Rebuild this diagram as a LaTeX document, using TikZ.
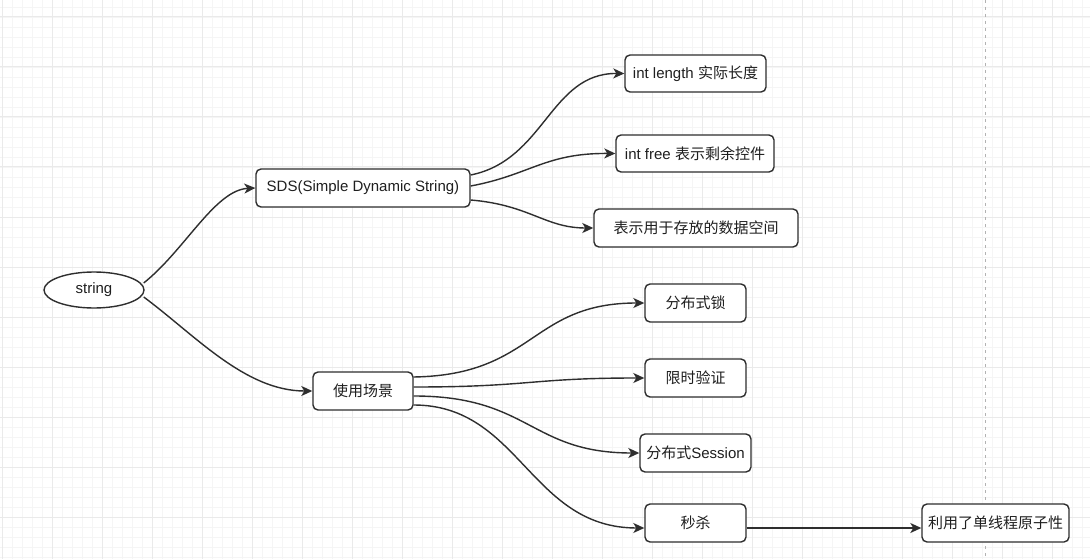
\documentclass[tikz,border=0pt]{standalone}
\usepackage{fontspec}
\setmainfont{Liberation Sans}
\newfontfamily\cjk{Noto Sans CJK SC}
\usetikzlibrary{arrows.meta,calc,shapes.geometric}
\definecolor{minorgrid}{HTML}{F5F5F5}
\definecolor{majorgrid}{HTML}{EAEAEA}
\definecolor{linec}{HTML}{2E2E2E}
\tikzset{
  box/.style={draw=linec, line width=1.4pt, rounded corners=5pt, fill=white,
    minimum height=38pt, inner sep=0pt, text=black!88, font=\fontsize{15pt}{18pt}\selectfont},
  ell/.style={draw=linec, line width=1.4pt, ellipse, fill=white, inner sep=0pt,
    minimum width=100pt, minimum height=36pt, text=black!88, font=\fontsize{15pt}{18pt}\selectfont},
  conn/.style={draw=linec, line width=1.4pt, -{Stealth[length=11pt,width=10pt,inset=3pt]}}
}
\begin{document}
\begin{tikzpicture}[x=1pt,y=-1pt]
\useasboundingbox (0,0) rectangle (1090,559);
\fill[white] (0,0) rectangle (1090,559);
\foreach \x in {2,12,...,1090} \draw[minorgrid, line width=0.9pt] (\x,0) -- (\x,559);
\foreach \y in {7,17,...,559} \draw[minorgrid, line width=0.9pt] (0,\y) -- (1090,\y);
\foreach \x in {2,52,...,1090} \draw[majorgrid, line width=1pt] (\x,0) -- (\x,559);
\foreach \y in {17,67,...,559} \draw[majorgrid, line width=1pt] (0,\y) -- (1090,\y);
\draw[black!30, line width=1pt, dash pattern=on 3pt off 4pt] (985,0) -- (985,559);

\node[ell] (s) at (94,290) {string};
\node[box, minimum width=214pt] (sds) at (363,188) {SDS(Simple Dynamic String)};
\node[box, minimum width=141pt, minimum height=37pt] (len) at (695.5,73.5) {int length {\cjk 实际长度}};
\node[box, minimum width=158pt, minimum height=37pt] (free) at (695,153.5) {int free {\cjk 表示剩余控件}};
\node[box, minimum width=204pt] (buf) at (696,228) {\cjk 表示用于存放的数据空间};
\node[box, minimum width=100pt] (use) at (363,391) {\cjk 使用场景};
\node[box, minimum width=101pt] (lock) at (695.5,303) {\cjk 分布式锁};
\node[box, minimum width=101pt] (limit) at (695.5,378) {\cjk 限时验证};
\node[box, minimum width=111pt] (sess) at (695.5,453) {{\cjk 分布式}Session};
\node[box, minimum width=101pt] (kill) at (695.5,523) {\cjk 秒杀};
\node[box, minimum width=147pt] (atom) at (995.5,523) {\cjk 利用了单线程原子性};

\draw[conn] ($(s.east)+(-1,-7)$) .. controls (185,250) and (215,190) .. (sds.west);
\draw[conn] ($(s.east)+(-1,7)$) .. controls (195,335) and (245,391) .. (use.west);

\draw[conn] ($(sds.east)+(0,-13)$) .. controls (545,160) and (550,73) .. (len.west);
\draw[conn] ($(sds.east)+(0,-2)$) .. controls (530,175) and (545,153) .. (free.west);
\draw[conn] ($(sds.east)+(0,12)$) .. controls (530,205) and (545,228) .. (buf.west);

\draw[conn] ($(use.east)+(0,-14)$) .. controls (535,375) and (530,303) .. (lock.west);
\draw[conn] ($(use.east)+(0,-4)$) .. controls (530,387) and (530,378) .. (limit.west);
\draw[conn] ($(use.east)+(0,5)$) .. controls (530,396) and (530,453) .. (sess.west);
\draw[conn] ($(use.east)+(0,14)$) .. controls (520,405) and (530,528) .. ($(kill.west)+(0,5)$);

\draw[conn] ($(kill.east)+(0,5)$) -- ($(atom.west)+(0,5)$);
\end{tikzpicture}
\end{document}
